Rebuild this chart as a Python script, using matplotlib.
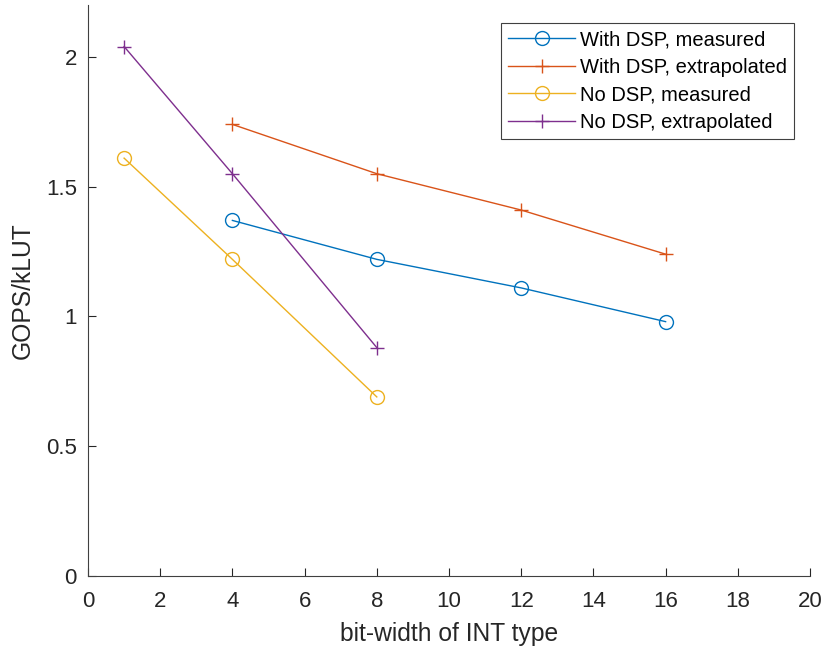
import matplotlib
matplotlib.use("Agg")
import matplotlib.pyplot as plt

plt.rcParams['font.family'] = ['Liberation Sans', 'DejaVu Sans']

x_dsp = [4, 8, 12, 16]
y_dsp_meas = [1.37, 1.22, 1.11, 0.98]
y_dsp_extr = [1.74, 1.55, 1.41, 1.24]
x_nodsp = [1, 4, 8]
y_nodsp_meas = [1.61, 1.22, 0.69]
y_nodsp_extr = [2.04, 1.55, 0.88]

xticks = [0, 2, 4, 6, 8, 10, 12, 14, 16, 18, 20]
yticks = [0, 0.5, 1, 1.5, 2]
ytick_labels = ['0', '0.5', '1', '1.5', '2']

c_blue = '#0072BD'
c_red = '#D95319'
c_yellow = '#EDB120'
c_purple = '#7E2F8E'

fig = plt.figure(figsize=(8.26, 6.49), dpi=100)
ax = fig.add_axes([88/826, 73/649, 722/826, 571/649])

ax.plot(x_dsp, y_dsp_meas, color=c_blue, marker='o', ms=10, mfc='none', lw=1, label='With DSP, measured')
ax.plot(x_dsp, y_dsp_extr, color=c_red, marker='+', ms=10, lw=1, label='With DSP, extrapolated')
ax.plot(x_nodsp, y_nodsp_meas, color=c_yellow, marker='o', ms=10, mfc='none', lw=1, label='No DSP, measured')
ax.plot(x_nodsp, y_nodsp_extr, color=c_purple, marker='+', ms=10, lw=1, label='No DSP, extrapolated')

ax.set_xlim(0, 20)
ax.set_ylim(0, 2.2)
ax.set_xticks(xticks)
ax.set_xticklabels([str(t) for t in xticks])
ax.set_yticks(yticks)
ax.set_yticklabels(ytick_labels)
for s in ['top', 'right']:
    ax.spines[s].set_visible(False)
for s in ['left', 'bottom']:
    ax.spines[s].set_color('#404040')
    ax.spines[s].set_linewidth(0.8)
ax.tick_params(direction='in', length=6, width=0.8, colors='#262626', labelsize=16)
ax.tick_params(axis='x', pad=11)
ax.tick_params(axis='y', pad=8)
ax.set_xlabel('bit-width of INT type', fontsize=17.7, color='#262626', labelpad=7)
ax.set_ylabel('GOPS/kLUT', fontsize=17.7, color='#262626', labelpad=8)

leg = ax.legend(loc='upper right', bbox_to_anchor=(706/722, 1 - 18/571), fontsize=14.5,
                frameon=True, fancybox=False, edgecolor='#404040', framealpha=1,
                handlelength=3.3, borderpad=0.35, labelspacing=0.43, handletextpad=0.25, borderaxespad=0)
leg.get_frame().set_linewidth(0.8)

fig.savefig('out.png', dpi=100)
